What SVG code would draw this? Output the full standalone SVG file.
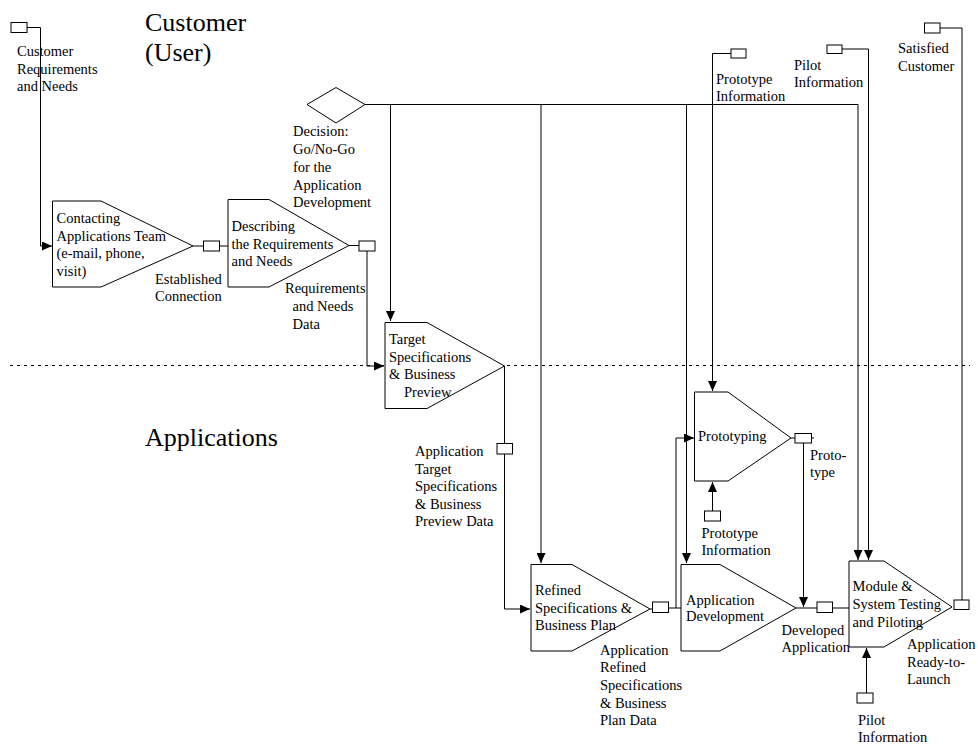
<svg xmlns="http://www.w3.org/2000/svg" width="978" height="744" viewBox="0 0 978 744" font-family="Liberation Serif, serif">
  <style>
    text { font-family: 'Liberation Serif', 'Times New Roman', Times, serif; font-size: 14.5px; fill: #000; }
    .big { font-size: 26px; }
    .blk { fill: #fff; stroke: #000; stroke-width: 1; }
    .port { fill: #fff; stroke: #000; stroke-width: 1; }
    .ln { fill: none; stroke: #000; stroke-width: 1; }
    .arr { fill: none; stroke: #000; stroke-width: 1; marker-end: url(#ah); }
    .lane { fill: none; stroke: #000; stroke-width: 1; stroke-dasharray: 3 4; }
  </style>
  <defs>
    <marker id="ah" markerUnits="userSpaceOnUse" markerWidth="10" markerHeight="9" refX="10" refY="4.5" orient="auto">
      <path d="M0,0 L10,4.5 L0,9 z" fill="#000"/>
    </marker>
  </defs>

  <rect width="978" height="744" fill="#fff"/>

  <!-- swimlane titles and separator -->
  <g id="lanes">
    <line class="lane" x1="10" y1="365.5" x2="970" y2="365.5"/>
    <text class="big" x="145" y="31">Customer</text>
    <text class="big" x="145" y="61">(User)</text>
    <text class="big" x="145" y="446">Applications</text>
  </g>

  <!-- connectors -->
  <g id="connectors">
    <!-- customer requirements into contacting -->
    <polyline class="arr" points="27,27.5 40.5,27.5 40.5,246 52,246"/>
    <!-- contacting -> established connection -> describing -->
    <line class="ln" x1="193" y1="246" x2="203" y2="246"/>
    <line class="ln" x1="219" y1="246" x2="228" y2="246"/>
    <!-- describing -> requirements data -> target -->
    <line class="ln" x1="349" y1="245.5" x2="359" y2="245.5"/>
    <polyline class="arr" points="367,251 367,366 384,366"/>
    <!-- decision bus -->
    <line class="ln" x1="365" y1="104.5" x2="858" y2="104.5"/>
    <line class="arr" x1="390.5" y1="104.5" x2="390.5" y2="321"/>
    <line class="arr" x1="541" y1="104.5" x2="541" y2="563"/>
    <line class="arr" x1="686.5" y1="104.5" x2="686.5" y2="563"/>
    <line class="arr" x1="858" y1="104.5" x2="858" y2="560"/>
    <!-- target -> target data -> refined -->
    <line class="ln" x1="504.5" y1="366" x2="504.5" y2="443"/>
    <polyline class="arr" points="504.5,454 504.5,609 530,609"/>
    <!-- refined -> refined data -> prototyping / development -->
    <line class="ln" x1="650" y1="609" x2="652" y2="609"/>
    <line class="ln" x1="668" y1="608" x2="681" y2="608"/>
    <polyline class="arr" points="676,608 676,438 694,438"/>
    <!-- prototype information (top) -->
    <polyline class="arr" points="731,53.5 712.5,53.5 712.5,391"/>
    <!-- prototype information (bottom) -->
    <line class="arr" x1="712.5" y1="511" x2="712.5" y2="482"/>
    <!-- prototyping -> prototype -> development output -->
    <line class="ln" x1="791" y1="438" x2="814" y2="438"/>
    <line class="arr" x1="803.5" y1="443" x2="803.5" y2="607"/>
    <!-- development -> developed application -> testing -->
    <line class="ln" x1="796" y1="608" x2="817" y2="608"/>
    <line class="ln" x1="833" y1="608" x2="849" y2="608"/>
    <!-- pilot information (top) -->
    <polyline class="arr" points="842,49 868.5,49 868.5,560"/>
    <!-- pilot information (bottom) -->
    <line class="arr" x1="866.5" y1="693" x2="866.5" y2="648"/>
    <!-- ready-to-launch -> satisfied customer -->
    <polyline class="ln" points="962,600 962,28 940,28"/>
  </g>

  <!-- customer requirements -->
  <g id="customer-requirements">
    <rect class="port" x="11" y="22.5" width="16" height="10"/>
    <text x="17" y="56">Customer</text>
    <text x="17" y="73.5">Requirements</text>
    <text x="17" y="91">and Needs</text>
  </g>

  <!-- go / no-go decision -->
  <g id="decision">
    <polygon class="blk" points="307,104.5 336,87.5 365,104.5 336,123"/>
    <text x="293" y="136">Decision:</text>
    <text x="293" y="154">Go/No-Go</text>
    <text x="293" y="171.5">for the</text>
    <text x="293" y="189.5">Application</text>
    <text x="293" y="207">Development</text>
  </g>

  <g id="contacting">
    <polygon class="blk" points="52.5,201 101,201 193,246 101,287 52.5,287"/>
    <text x="56.5" y="223">Contacting</text>
    <text x="56.5" y="240.5">Applications Team</text>
    <text x="56.5" y="258">(e-mail, phone,</text>
    <text x="56.5" y="275.5">visit)</text>
  </g>

  <g id="established-connection">
    <rect class="port" x="203.5" y="241" width="16" height="10"/>
    <text x="155" y="283.5">Established</text>
    <text x="155" y="301">Connection</text>
  </g>

  <g id="describing">
    <polygon class="blk" points="228,199.5 269,199.5 349,245.5 269,287 228,287"/>
    <text x="231.5" y="231">Describing</text>
    <text x="231.5" y="248.5">the Requirements</text>
    <text x="231.5" y="266">and Needs</text>
  </g>

  <g id="requirements-data">
    <rect class="port" x="359" y="241" width="16" height="10"/>
    <text x="285" y="293">Requirements</text>
    <text x="292.5" y="311">and Needs</text>
    <text x="292.5" y="328.5">Data</text>
  </g>

  <g id="target-specifications">
    <polygon class="blk" points="385,322.5 427,322.5 504.5,366 427,408.5 385,408.5"/>
    <text x="389" y="344">Target</text>
    <text x="389" y="361.5">Specifications</text>
    <text x="389" y="379">&amp; Business</text>
    <text x="404" y="396.5">Preview</text>
  </g>

  <g id="target-data">
    <rect class="port" x="497" y="443.5" width="15.5" height="10.5"/>
    <text x="415" y="456">Application</text>
    <text x="415" y="473.5">Target</text>
    <text x="415" y="491">Specifications</text>
    <text x="415" y="508.5">&amp; Business</text>
    <text x="415" y="526">Preview Data</text>
  </g>

  <g id="refined-specifications">
    <polygon class="blk" points="531,564.5 572,564.5 650,609 572,651 531,651"/>
    <text x="535" y="595">Refined</text>
    <text x="535" y="612.5">Specifications &amp;</text>
    <text x="535" y="630">Business Plan</text>
  </g>

  <g id="refined-data">
    <rect class="port" x="652.5" y="602" width="16" height="10.5"/>
    <text x="600" y="654.5">Application</text>
    <text x="600" y="672">Refined</text>
    <text x="600" y="690">Specifications</text>
    <text x="600" y="707.5">&amp; Business</text>
    <text x="600" y="725">Plan Data</text>
  </g>

  <g id="prototype-information-top">
    <rect class="port" x="731" y="49" width="15" height="9"/>
    <text x="716" y="84">Prototype</text>
    <text x="716" y="101">Information</text>
  </g>

  <g id="prototyping">
    <polygon class="blk" points="694.5,392 728,392 791,438 728,481 694.5,481"/>
    <text x="698" y="441">Prototyping</text>
  </g>

  <g id="prototype-information-bottom">
    <rect class="port" x="704.5" y="511" width="16" height="10"/>
    <text x="701.5" y="538">Prototype</text>
    <text x="701.5" y="555">Information</text>
  </g>

  <g id="prototype">
    <rect class="port" x="795" y="433.5" width="16.5" height="9.5"/>
    <text x="810" y="459.5">Proto-</text>
    <text x="810" y="477">type</text>
  </g>

  <g id="application-development">
    <polygon class="blk" points="681,564.5 720,564.5 796,608 720,651 681,651"/>
    <text x="686" y="604.5">Application</text>
    <text x="686" y="621">Development</text>
  </g>

  <g id="developed-application">
    <rect class="port" x="817" y="602" width="15.5" height="10.5"/>
    <text x="781.5" y="634.5">Developed</text>
    <text x="781.5" y="652">Application</text>
  </g>

  <g id="pilot-information-top">
    <rect class="port" x="827" y="45" width="15" height="8.5"/>
    <text x="794" y="69.5">Pilot</text>
    <text x="794" y="87">Information</text>
  </g>

  <g id="testing-and-piloting">
    <polygon class="blk" points="849,561 884,561 952,607 884,647 849,647"/>
    <text x="852.5" y="591">Module &amp;</text>
    <text x="852.5" y="609">System Testing</text>
    <text x="852.5" y="627">and Piloting</text>
  </g>

  <g id="pilot-information-bottom">
    <rect class="port" x="857" y="693" width="16" height="10"/>
    <text x="858" y="724.5">Pilot</text>
    <text x="858" y="742">Information</text>
  </g>

  <g id="ready-to-launch">
    <rect class="port" x="954" y="600" width="15" height="9.5"/>
    <text x="907" y="648.5">Application</text>
    <text x="907" y="666.5">Ready-to-</text>
    <text x="907" y="684">Launch</text>
  </g>

  <g id="satisfied-customer">
    <rect class="port" x="924.5" y="23" width="15.5" height="10"/>
    <text x="898" y="53">Satisfied</text>
    <text x="898" y="70.5">Customer</text>
  </g>
</svg>
